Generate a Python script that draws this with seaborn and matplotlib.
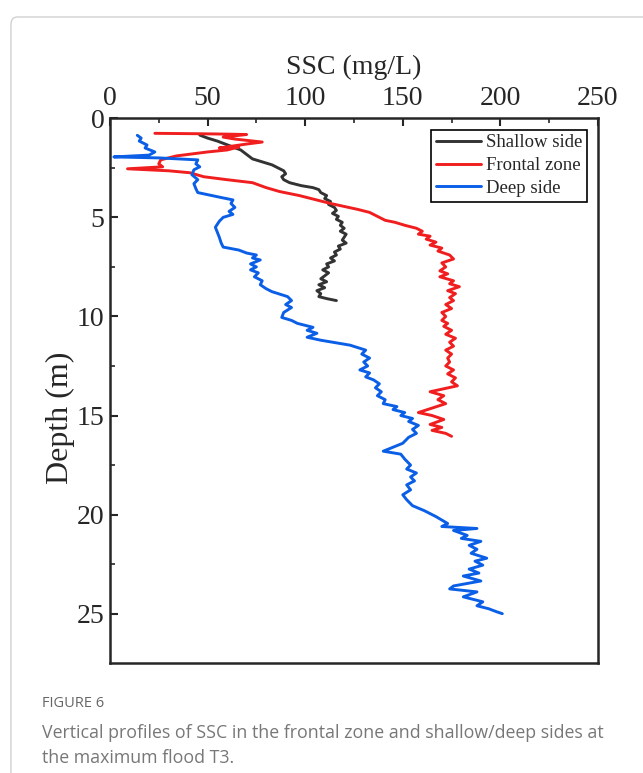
import pandas as pd
import seaborn as sns
import matplotlib.pyplot as plt
from matplotlib.patches import FancyBboxPatch

# Shallow side
shallow_depth = [0.85, 1.0, 1.15, 1.3, 1.45, 1.6, 1.75, 1.9, 2.05, 2.2, 2.35, 2.5, 2.65, 2.8, 2.95,
                 3.1, 3.25, 3.4, 3.5, 3.6, 3.75, 3.9, 4.05, 4.2, 4.35, 4.5, 4.65, 4.8, 4.95, 5.1,
                 5.25, 5.4, 5.55, 5.7, 5.85, 6.0, 6.15, 6.3, 6.45, 6.6, 6.75, 6.9, 7.05, 7.2, 7.35,
                 7.5, 7.65, 7.8, 7.95, 8.1, 8.25, 8.4, 8.55, 8.7, 8.85, 9.0, 9.1, 9.2]
shallow_ssc = [46, 50, 55, 59, 63, 67, 69, 71, 73, 78, 83, 86, 89, 90, 88,
               89, 92, 98, 104, 107, 108, 111, 110, 113, 112, 115, 116, 114, 117, 116,
               119, 118, 120, 118, 121, 120, 119, 121, 117, 118, 115, 116, 113, 115, 111,
               112, 109, 112, 110, 108, 111, 107, 110, 106, 108, 107, 111, 116]

# Frontal zone
frontal_depth = [0.76, 0.78, 0.8, 0.82, 0.95, 1.05, 1.2, 1.3, 1.5, 1.45, 1.6, 1.7, 1.9, 2.1, 2.3,
                 2.45, 2.55, 2.65, 2.75, 2.95, 3.1, 3.25, 3.5, 3.7, 3.9, 4.1, 4.3, 4.45, 4.6, 4.75,
                 4.95, 5.15, 5.25, 5.4, 5.55, 5.7, 5.85, 5.95, 6.1, 6.25, 6.4, 6.55, 6.7, 6.9, 7.1,
                 7.3, 7.5, 7.7, 7.85, 8.0, 8.2, 8.35, 8.5, 8.7, 8.85, 9.05, 9.2, 9.4, 9.6, 9.8,
                 10.0, 10.2, 10.35, 10.5, 10.7, 10.9, 11.1, 11.3, 11.5, 11.7, 11.9, 12.1, 12.3, 12.5,
                 12.7, 12.9, 13.1, 13.3, 13.5, 13.8, 14.0, 14.2, 14.4, 14.85, 15.0, 15.2, 15.45,
                 15.6, 15.75, 15.9, 16.05]
frontal_ssc = [23, 45, 60, 70, 58, 64, 78, 70, 56, 66, 60, 50, 34, 26, 25,
               27, 9, 30, 41, 48, 60, 73, 80, 87, 97, 105, 113, 120, 127, 133,
               137, 141, 146, 151, 157, 160, 158, 164, 162, 167, 164, 170, 168, 174, 176,
               170, 172, 169, 173, 169, 176, 174, 179, 173, 177, 174, 176, 172, 175, 170,
               172, 170, 173, 171, 175, 172, 177, 174, 176, 172, 175, 173, 174, 172,
               176, 173, 177, 175, 178, 164, 171, 168, 172, 158, 165, 171, 164,
               170, 165, 172, 175]

# Deep side
deep_depth = [0.86, 1.0, 1.15, 1.35, 1.5, 1.7, 1.86, 1.95, 2.0, 2.1, 2.3, 2.45, 2.6, 2.85, 3.1,
              3.3, 3.55, 3.75, 4.0, 4.12, 4.3, 4.5, 4.7, 4.85, 5.0, 5.2, 5.5, 5.75, 6.0, 6.3,
              6.5, 6.65, 6.8, 6.9, 7.05, 7.15, 7.35, 7.5, 7.65, 7.8, 8.0, 8.2, 8.4, 8.6, 8.75,
              9.0, 9.2, 9.4, 9.55, 9.8, 10.05, 10.2, 10.35, 10.55, 10.7, 10.85, 11.05, 11.2, 11.45,
              11.7, 11.9, 12.1, 12.3, 12.5, 12.7, 12.85, 13.05, 13.2, 13.4, 13.6, 13.8, 14.0, 14.2,
              14.4, 14.55, 14.7, 14.85, 15.0, 15.15, 15.3, 15.5, 15.7, 15.9, 16.1, 16.4, 16.8, 16.95,
              17.2, 17.5, 17.7, 17.9, 18.1, 18.3, 18.5, 18.75, 19.0, 19.25, 19.55, 19.8, 20.1, 20.45,
              20.6, 20.7, 20.8, 21.05, 21.2, 21.35, 21.55, 21.75, 21.95, 22.2, 22.35, 22.55, 22.75,
              22.95, 23.1, 23.35, 23.6, 23.75, 23.9, 24.15, 24.4, 24.6, 24.75, 24.9, 25.0]
deep_ssc = [14, 16, 15, 19, 18, 23, 20, 2, 25, 45, 44, 46, 43, 42, 45,
            43, 44, 45, 57, 63, 62, 64, 61, 63, 58, 56, 54, 55, 56, 57,
            58, 66, 70, 75, 73, 77, 72, 75, 72, 76, 74, 78, 77, 80, 83,
            91, 93, 90, 93, 89, 88, 93, 96, 104, 101, 106, 101, 108, 123,
            131, 129, 133, 130, 132, 128, 133, 131, 135, 138, 136, 139, 137, 141,
            140, 147, 145, 151, 149, 155, 153, 158, 155, 157, 153, 150, 140, 149,
            151, 154, 152, 157, 154, 156, 152, 154, 150, 152, 155, 161, 167, 173,
            170, 188, 176, 183, 180, 190, 184, 188, 185, 193, 187, 191, 184,
            189, 181, 190, 176, 174, 188, 181, 191, 188, 194, 198, 201]

series_names = ['Shallow side', 'Frontal zone', 'Deep side']
series_colors = ['#333333', '#f01e1e', '#0a5fe6']

sns.set_style('ticks')
plt.rcParams['font.family'] = ['Liberation Serif', 'DejaVu Serif']

fig = plt.figure(figsize=(6.43, 7.73), dpi=100)
ax = fig.add_axes([0.171, 0.142, 0.759, 0.705])

profiles = [(shallow_ssc, shallow_depth), (frontal_ssc, frontal_depth), (deep_ssc, deep_depth)]
for (ssc, dep), name, col in zip(profiles, series_names, series_colors):
    df = pd.DataFrame({'SSC': ssc, 'Depth': dep})
    sns.lineplot(data=df, x='SSC', y='Depth', sort=False, estimator=None,
                 color=col, linewidth=2.1, label=name, ax=ax)

ax.set_xlim(0, 250)
ax.set_ylim(27.5, 0)
ax.xaxis.set_ticks_position('top')
ax.xaxis.set_label_position('top')
ax.set_xticks([0, 50, 100, 150, 200, 250])
ax.set_xticks(range(25, 250, 50), minor=True)
ax.set_yticks([0, 5, 10, 15, 20, 25])
ax.set_yticks([2.5, 7.5, 12.5, 17.5, 22.5], minor=True)
ax.tick_params(which='major', direction='in', length=6, width=1.5, labelsize=20)
ax.tick_params(axis='x', which='major', pad=5)
ax.tick_params(axis='y', which='major', pad=4)
ax.tick_params(which='minor', direction='in', length=3.5, width=1.2)
ax.tick_params(axis='y', which='both', left=True, right=False)
ax.tick_params(axis='x', which='both', top=True, bottom=False)
for s in ax.spines.values():
    s.set_linewidth(1.8)
ax.set_xlabel('SSC (mg/L)', fontsize=20, labelpad=9)
ax.set_ylabel('Depth (m)', fontsize=23)
ax.yaxis.set_label_coords(-0.072, 0.45)

leg = ax.legend(loc='upper right', fontsize=13.5, frameon=True, fancybox=False,
                edgecolor='black', framealpha=1, handlelength=2.4, borderpad=0.25,
                labelspacing=0.3, handletextpad=0.25, borderaxespad=0.6)
leg.get_frame().set_linewidth(1.2)

# outer card border
border = FancyBboxPatch((0.017, -0.1), 1.2, 0.1 + 0.978, boxstyle='round,pad=0,rounding_size=0.01',
                        transform=fig.transFigure, facecolor='none', edgecolor='#d0d0d0',
                        linewidth=1.0, clip_on=False)
fig.patches.append(border)

caption_font = ['Open Sans', 'DejaVu Sans']
fig.text(0.065, 0.090, 'FIGURE 6', fontsize=10.5, color='#666666', family=caption_font, va='center')
fig.text(0.065, 0.0517, 'Vertical profiles of SSC in the frontal zone and shallow/deep sides at',
         fontsize=12.8, color='#777777', family=caption_font, va='center')
fig.text(0.065, 0.0194, 'the maximum flood T3.',
         fontsize=12.8, color='#777777', family=caption_font, va='center')

fig.savefig('out.png', dpi=100)
